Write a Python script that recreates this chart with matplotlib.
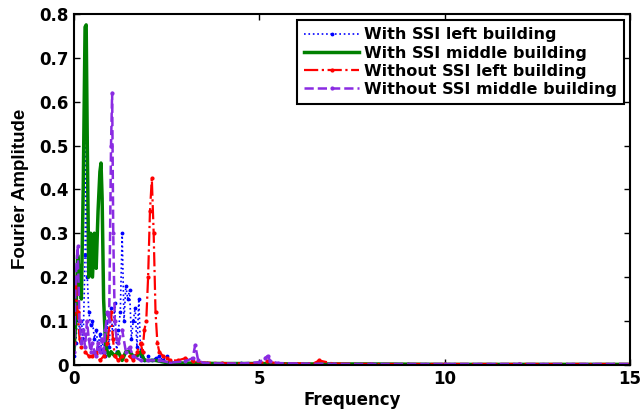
import numpy as np
import matplotlib.pyplot as plt

plt.rcParams['font.family'] = ['DejaVu Sans']
plt.rcParams['font.weight'] = 'bold'

# With SSI left building
f_ssi_left = [0, 0.05, 0.1, 0.15, 0.2, 0.25, 0.3, 0.33, 0.36, 0.4, 0.45, 0.5, 0.55, 0.6, 0.65,
              0.7, 0.75, 0.8, 0.85, 0.9, 0.95, 1.0, 1.05, 1.1, 1.15, 1.2, 1.25, 1.3, 1.35, 1.4,
              1.45, 1.5, 1.55, 1.6, 1.65, 1.7, 1.75, 1.8, 1.85, 1.9, 2.0, 2.1, 2.2, 2.3, 2.4,
              2.5, 2.6, 2.8, 3.0, 3.3, 3.6, 4.0, 4.5, 5.0, 5.5, 6.0, 7.0, 8.0, 9.0, 10.0]
a_ssi_left = [0.02, 0.05, 0.12, 0.08, 0.1, 0.06, 0.25, 0.52, 0.2, 0.12, 0.09, 0.1, 0.06, 0.08, 0.04,
              0.07, 0.03, 0.06, 0.02, 0.1, 0.04, 0.13, 0.06, 0.14, 0.03, 0.08, 0.12, 0.3, 0.1, 0.18,
              0.15, 0.17, 0.06, 0.1, 0.13, 0.04, 0.15, 0.02, 0.03, 0.01, 0.02, 0.01, 0.015, 0.02, 0.01,
              0.02, 0.008, 0.005, 0.004, 0.005, 0.004, 0.003, 0.004, 0.003, 0.003, 0.002, 0.002, 0.002, 0.002, 0.002]

# With SSI middle building
f_ssi_mid = [0, 0.05, 0.1, 0.15, 0.2, 0.25, 0.3, 0.33, 0.36, 0.4, 0.45, 0.5, 0.55, 0.6, 0.65,
             0.7, 0.73, 0.76, 0.8, 0.85, 0.9, 0.95, 1.0, 1.1, 1.2, 1.3, 1.4, 1.5, 1.6, 1.7,
             1.8, 1.9, 2.0, 2.2, 2.5, 3.0, 4.0, 5.0, 6.0, 8.0, 10.0, 12.0, 15.0]
a_ssi_mid = [0.03, 0.1, 0.25, 0.2, 0.15, 0.4, 0.77, 0.775, 0.5, 0.2, 0.3, 0.2, 0.3, 0.22, 0.35,
             0.44, 0.46, 0.38, 0.15, 0.05, 0.03, 0.02, 0.03, 0.02, 0.03, 0.01, 0.03, 0.03, 0.02, 0.02,
             0.03, 0.01, 0.01, 0.01, 0.005, 0.004, 0.003, 0.003, 0.002, 0.002, 0.001, 0.001, 0.001]

# Without SSI left building
f_nossi_left = [0, 0.05, 0.1, 0.15, 0.2, 0.3, 0.4, 0.5, 0.6, 0.7, 0.8, 0.9, 1.0, 1.05, 1.1,
                1.2, 1.3, 1.4, 1.5, 1.6, 1.7, 1.8, 1.85, 1.9, 1.95, 2.0, 2.05, 2.1, 2.15, 2.2,
                2.25, 2.3, 2.4, 2.5, 2.6, 2.8, 3.0, 3.2, 3.5, 4.0, 4.5, 5.0, 5.2, 5.5, 6.0,
                6.5, 6.6, 7.0, 8.0, 10.0, 12.0, 15.0]
a_nossi_left = [0.05, 0.2, 0.12, 0.06, 0.04, 0.03, 0.02, 0.02, 0.03, 0.01, 0.02, 0.05, 0.12, 0.06, 0.02,
                0.01, 0.02, 0.01, 0.02, 0.01, 0.03, 0.05, 0.03, 0.08, 0.1, 0.2, 0.35, 0.425, 0.3, 0.12,
                0.05, 0.03, 0.02, 0.015, 0.01, 0.01, 0.015, 0.008, 0.005, 0.004, 0.003, 0.003, 0.008, 0.003, 0.003,
                0.004, 0.01, 0.003, 0.002, 0.002, 0.002, 0.002]

# Without SSI middle building
f_nossi_mid = [0, 0.05, 0.1, 0.15, 0.2, 0.25, 0.3, 0.35, 0.4, 0.45, 0.5, 0.55, 0.6, 0.65, 0.7,
               0.75, 0.8, 0.85, 0.9, 0.95, 1.0, 1.03, 1.06, 1.1, 1.15, 1.2, 1.3, 1.4, 1.5, 1.6,
               1.8, 2.0, 2.3, 2.6, 3.0, 3.2, 3.27, 3.35, 3.5, 4.0, 4.5, 5.0, 5.15, 5.22, 5.3,
               5.5, 6.0, 7.0, 8.0, 10.0, 12.0, 15.0]
a_nossi_mid = [0.03, 0.2, 0.27, 0.1, 0.05, 0.08, 0.04, 0.1, 0.06, 0.03, 0.05, 0.03, 0.02, 0.05, 0.03,
               0.06, 0.03, 0.08, 0.12, 0.1, 0.5, 0.62, 0.3, 0.1, 0.06, 0.05, 0.08, 0.03, 0.04, 0.02,
               0.01, 0.01, 0.01, 0.005, 0.008, 0.015, 0.045, 0.01, 0.004, 0.003, 0.003, 0.006, 0.015, 0.02, 0.008,
               0.004, 0.003, 0.002, 0.002, 0.002, 0.002, 0.002]

fig = plt.figure(figsize=(6.43, 4.09), dpi=100)
ax = fig.add_axes([0.115, 0.108, 0.865, 0.858])

ax.plot(f_ssi_left, a_ssi_left, color='blue', linestyle=':', linewidth=1.2,
        marker='.', markersize=3.5, label='With SSI left building')
ax.plot(f_ssi_mid, a_ssi_mid, color='#008000', linestyle='-', linewidth=2.5,
        label='With SSI middle building')
ax.plot(f_nossi_left, a_nossi_left, color='red', linestyle='-.', linewidth=1.6,
        marker='.', markersize=4, label='Without SSI left building')
ax.plot(f_nossi_mid, a_nossi_mid, color='#8a2be2', linestyle='--', linewidth=1.8,
        marker='.', markersize=4, label='Without SSI middle building')

ax.set_xlim(0, 15)
ax.set_ylim(0, 0.8)
ax.set_xticks([0, 5, 10, 15])
ax.set_yticks(np.arange(0, 0.81, 0.1))
ax.set_yticklabels(['0', '0.1', '0.2', '0.3', '0.4', '0.5', '0.6', '0.7', '0.8'])
ax.tick_params(direction='in', top=True, right=True, labelsize=12, width=1, length=4, pad=4)
for s in ax.spines.values():
    s.set_linewidth(1.5)

ax.set_xlabel('Frequency', fontsize=12, fontweight='bold', labelpad=2)
ax.set_ylabel('Fourier Amplitude', fontsize=13.5, fontweight='bold',
              family=['Liberation Sans', 'DejaVu Sans'], labelpad=7)

leg = ax.legend(loc='upper right', prop={'size': 11.5, 'weight': 'bold'}, fancybox=False,
                framealpha=1, edgecolor='black', handlelength=3.4, borderpad=0.45,
                labelspacing=0.2, handletextpad=0.3, borderaxespad=0.4)
leg.get_frame().set_linewidth(1.5)

fig.savefig('out.png', dpi=100)
